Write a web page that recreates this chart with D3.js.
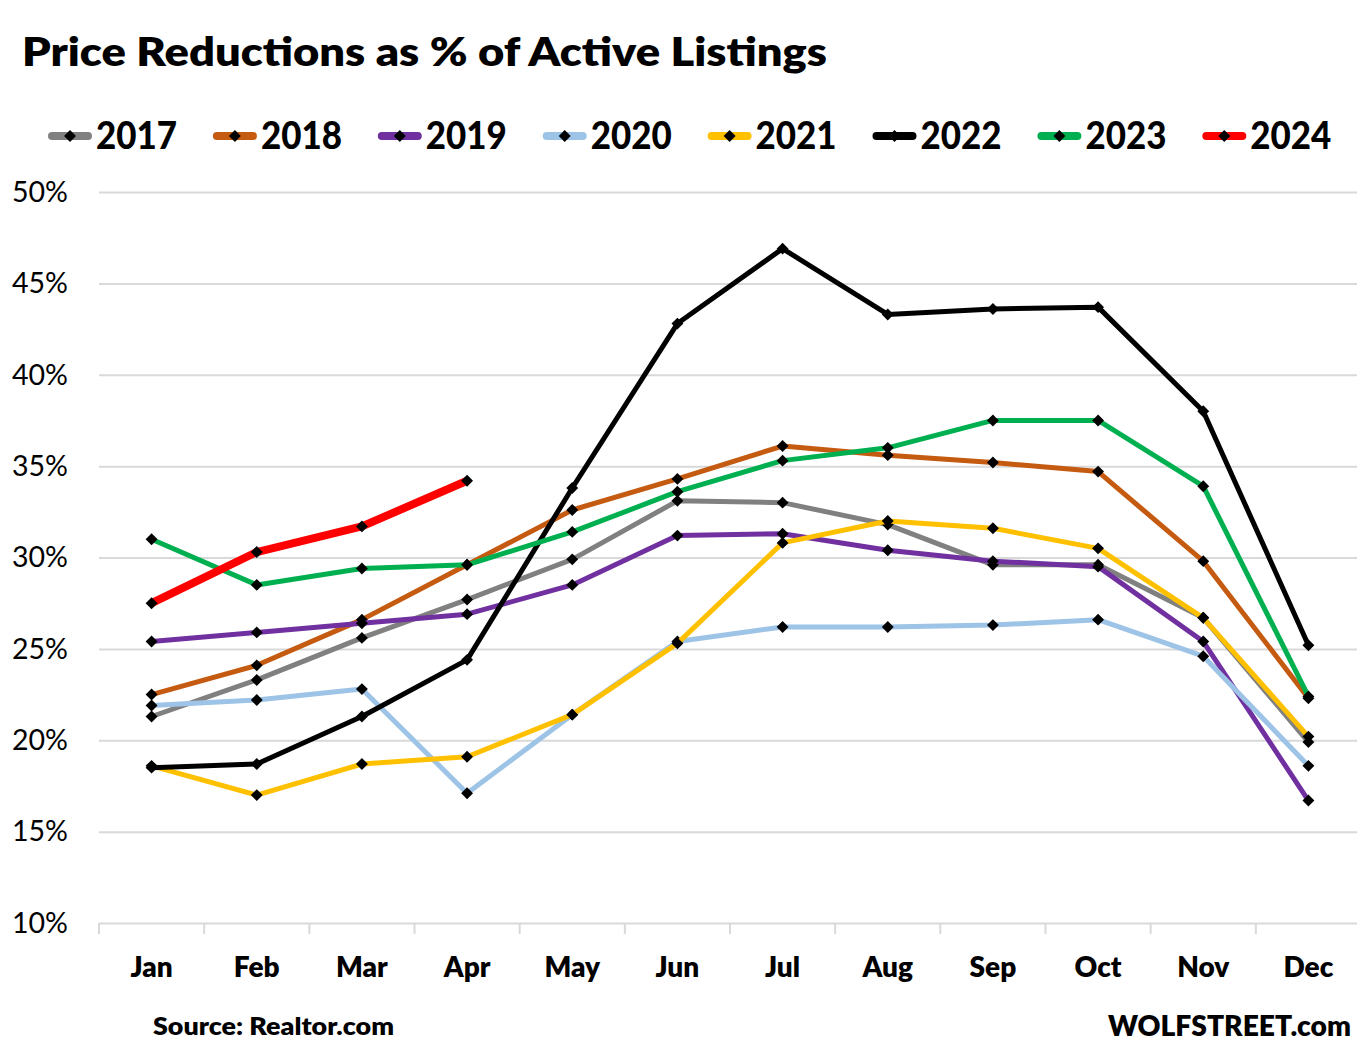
<!DOCTYPE html>
<html><head><meta charset="utf-8">
<script src="https://cdn.jsdelivr.net/npm/d3@7"></script>
<style>body{margin:0;background:#fff}svg{display:block}text{font-family:Lato,"Open Sans",sans-serif}</style>
</head><body>
<svg id="c" width="1357" height="1060"></svg>
<script>
const months = ["Jan","Feb","Mar","Apr","May","Jun","Jul","Aug","Sep","Oct","Nov","Dec"];
const years = ["2017","2018","2019","2020","2021","2022","2023","2024"];
const yTicks = [10,15,20,25,30,35,40,45,50];
const v2017 = [21.3,23.3,25.6,27.7,29.9,33.1,33.0,31.8,29.6,29.6,26.7,19.9];
const v2018 = [22.5,24.1,26.6,29.6,32.6,34.3,36.1,35.6,35.2,34.7,29.8,22.3];
const v2019 = [25.4,25.9,26.4,26.9,28.5,31.2,31.3,30.4,29.8,29.5,25.4,16.7];
const v2020 = [21.9,22.2,22.8,17.1,21.4,25.4,26.2,26.2,26.3,26.6,24.6,18.6];
const v2021 = [18.6,17.0,18.7,19.1,21.4,25.3,30.8,32.0,31.6,30.5,26.7,20.2];
const v2022 = [18.5,18.7,21.3,24.4,33.8,42.8,46.9,43.3,43.6,43.7,38.0,25.2];
const v2023 = [31.0,28.5,29.4,29.6,31.4,33.6,35.3,36.0,37.5,37.5,33.9,22.4];
const v2024 = [27.5,30.3,31.7,34.2];
const seriesValues = [v2017,v2018,v2019,v2020,v2021,v2022,v2023,v2024];
const colors = ["#808080","#c55a11","#7030a0","#9dc3e6","#ffc000","#000000","#00b050","#ff0000"];
const widths = [5,5,5,5,5,5,5,8];

const svg = d3.select("#c");
const x = d3.scaleBand().domain(months).range([99,1361]);
const y = d3.scaleLinear().domain([10,50]).range([923,192]);
const bw = x.bandwidth();

// title
svg.append("text").attr("x",22).attr("y",66).attr("font-size",40).attr("font-weight",800)
  .attr("textLength",805).attr("lengthAdjust","spacingAndGlyphs")
  .text("Price Reductions as % of Active Listings");

// grid + y axis
const ya = svg.append("g").attr("transform","translate(99,0)")
  .call(d3.axisLeft(y).tickValues(yTicks).tickFormat(d=>d+"%").tickSize(-(1361-99)).tickPadding(31));
ya.select(".domain").remove();
ya.selectAll(".tick line").attr("stroke","#d9d9d9").attr("stroke-width",2);
ya.selectAll(".tick text").attr("font-size",29).attr("fill","#000").attr("font-family","Lato")
  .attr("textLength",56).attr("lengthAdjust","spacingAndGlyphs");

// x ticks at band boundaries
const bounds = months.map(m=>x(m)).concat([x(months[months.length-1])+bw]);
svg.append("g").selectAll("line").data(bounds).join("line")
  .attr("x1",d=>d).attr("x2",d=>d).attr("y1",923).attr("y2",934)
  .attr("stroke","#d9d9d9").attr("stroke-width",2);
svg.append("g").selectAll("text").data(months).join("text")
  .attr("x",d=>x(d)+bw/2).attr("y",977).attr("text-anchor","middle")
  .attr("font-size",28).attr("font-weight",800).text(d=>d);

// lines
const line = d3.line().x((d,i)=>x(months[i])+bw/2).y(d=>y(d));
const diamond = d3.symbol().type(d3.symbolDiamond2).size(90);
seriesValues.forEach((vals,k)=>{
  const g = svg.append("g");
  g.append("path").datum(vals).attr("d",line).attr("fill","none")
    .attr("stroke",colors[k]).attr("stroke-width",widths[k]).attr("stroke-linejoin","round");
  g.selectAll("path.m").data(vals).join("path").attr("class","m")
    .attr("transform",(d,i)=>`translate(${x(months[i])+bw/2},${y(d)})`)
    .attr("d",diamond).attr("fill","#000");
});

// legend
const lg = svg.append("g");
years.forEach((yr,k)=>{
  const lx = 48 + k*164.9, ly = 136;
  lg.append("line").attr("x1",lx+4).attr("x2",lx+40).attr("y1",ly).attr("y2",ly)
    .attr("stroke",colors[k]).attr("stroke-width",8).attr("stroke-linecap","round");
  lg.append("path").attr("transform",`translate(${lx+22},${ly})`).attr("d",diamond).attr("fill","#000");
  lg.append("text").attr("x",lx+48).attr("y",ly+13).attr("font-size",37).attr("font-weight",900)
    .attr("textLength",81).attr("lengthAdjust","spacingAndGlyphs").text(yr);
});

// footer
svg.append("text").attr("x",153).attr("y",1035).attr("font-size",25).attr("font-weight",800)
  .attr("textLength",241).attr("lengthAdjust","spacingAndGlyphs").text("Source: Realtor.com");
svg.append("text").attr("x",1108).attr("y",1036).attr("font-size",28).attr("font-weight",800)
  .attr("textLength",243).attr("lengthAdjust","spacingAndGlyphs").text("WOLFSTREET.com");
</script>
</body></html>
